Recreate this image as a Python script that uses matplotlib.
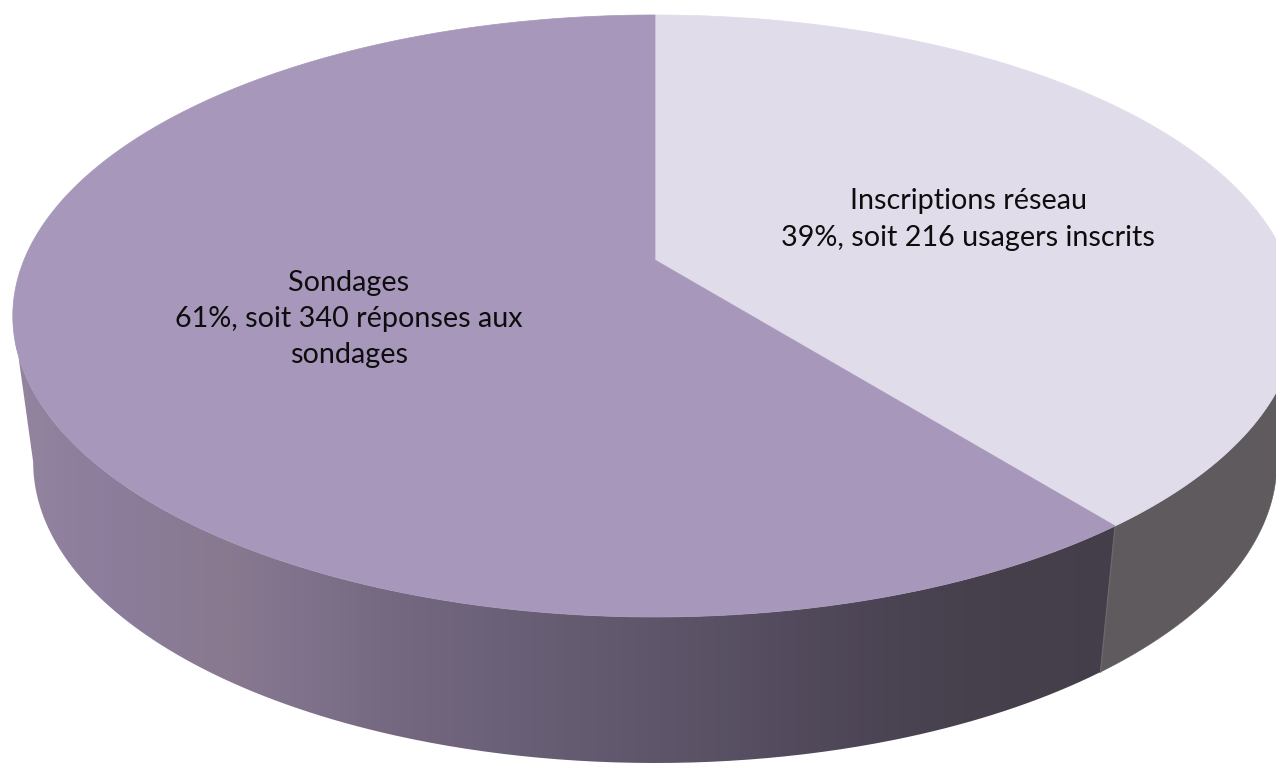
import numpy as np
import matplotlib
matplotlib.use("Agg")
import matplotlib.pyplot as plt
from matplotlib.path import Path
from matplotlib.patches import PathPatch
from matplotlib.colors import LinearSegmentedColormap

# pie values, starting at 12 o'clock and going clockwise
categories = ["Inscriptions réseau", "Sondages"]
values = [216, 340]
labels = ["Inscriptions réseau\n39%, soit 216 usagers inscrits",
          "Sondages\n61%, soit 340 réponses aux\nsondages"]
label_pos = [(968, 219.5), (349, 319)]
top_colors = ["#e1dcea", "#a797bb"]
side_flat = "#5e5a5e"

# shading of the purple side, from left to right
grad_x = [15, 100, 230, 270, 400, 650, 900, 1000, 1150]
grad_colors = ["#93859f", "#8c7e9c", "#88798f", "#84758f", "#736880", "#5f566b", "#4a4352", "#45404b", "#433e49"]

W, H = 1276, 763


# perspective view of a unit circle: centre of the pie and its foreshortening
def project(theta, cx, cy, a, b, k):
    u, v = np.sin(theta), np.cos(theta)
    w = 1 + k * v
    return cx + a * u / w, cy - b * v / w


top_view = dict(cx=655, cy=260, a=631, b=290.6, k=0.186)
low_view = dict(cx=655, cy=406, a=611, b=290.6, k=0.186)
# the slice border sits a bit further round than the plain share gives
border_nudge = np.radians(1.6)


# outline of one side wall: lower rim out to its extreme, back along the top rim
def wall_outline(start, end, outer, keep_start):
    th = np.linspace(start, end, 600)
    xt, yt = project(th, **top_view)
    xb, yb = project(th, **low_view)
    i_t = outer(xt)
    i_b = outer(xb)
    if keep_start:
        return np.r_[xb[:i_b + 1], xt[:i_t + 1][::-1]], np.r_[yb[:i_b + 1], yt[:i_t + 1][::-1]]
    return np.r_[xb[i_b:], xt[i_t:][::-1]], np.r_[yb[i_b:], yt[i_t:][::-1]]


fig = plt.figure(figsize=(W / 100, H / 100), dpi=100)
ax = fig.add_axes([0, 0, 1, 1])
ax.set_xlim(0, W)
ax.set_ylim(H, 0)
ax.axis("off")

cmap_x = (np.array(grad_x) - grad_x[0]) / (grad_x[-1] - grad_x[0])
cmap = LinearSegmentedColormap.from_list("side", list(zip(cmap_x, grad_colors)))

fracs = np.array(values) / sum(values)
edges = np.concatenate([[0], np.cumsum(fracs)]) * 2 * np.pi
edges[1] += border_nudge

# purple wall with a left to right gradient, clipped to its outline
x_wall, y_wall = wall_outline(edges[1], edges[2], np.argmin, True)
wall = PathPatch(Path(np.c_[x_wall, y_wall]), facecolor="none", edgecolor="none", transform=ax.transData)
ax.add_patch(wall)
im = ax.imshow(np.linspace(0, 1, 1024).reshape(1, -1), cmap=cmap, aspect="auto",
               extent=(grad_x[0], grad_x[-1], H, 0), zorder=1)
im.set_clip_path(wall)
ax.set_xlim(0, W)
ax.set_ylim(H, 0)

# grey wall, on the visible right part of the first slice
x_wall, y_wall = wall_outline(edges[0], edges[1], np.argmax, False)
ax.fill(x_wall, y_wall, facecolor=side_flat, edgecolor=side_flat, lw=0.4, zorder=2)

# light edge where the two walls meet
xt, yt = project(edges[1], **top_view)
xb, yb = project(edges[1], **low_view)
ax.plot([xt, xb], [yt, yb], color="#6a666c", lw=1, zorder=3)

# top of the pie
for i in range(len(values)):
    th = np.linspace(edges[i], edges[i + 1], 400)
    x, y = project(th, **top_view)
    x = np.r_[top_view["cx"], x]
    y = np.r_[top_view["cy"], y]
    ax.fill(x, y, facecolor=top_colors[i], edgecolor=top_colors[i], lw=0.5, zorder=4)

for lab, (tx, ty) in zip(labels, label_pos):
    ax.text(tx, ty, lab, ha="center", va="center", fontsize=20.7, family="Lato",
            color="#0d0d0d", linespacing=1.48, zorder=5)

fig.savefig("out.png", dpi=100)
